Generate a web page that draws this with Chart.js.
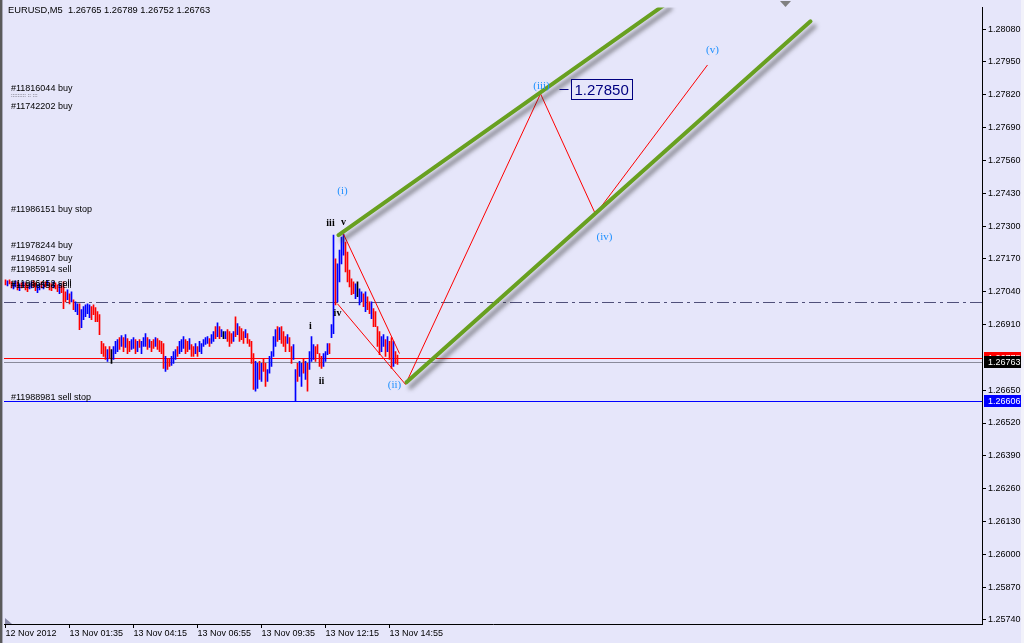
<!DOCTYPE html>
<html>
<head>
<meta charset="utf-8">
<title>EURUSD,M5</title>
<script src="https://cdn.jsdelivr.net/npm/chart.js@4.4.0/dist/chart.umd.min.js"></script>
<style>
  html, body { margin: 0; padding: 0; background: #e6e6fa; }
  canvas { display: block; }
</style>
</head>
<body>
<canvas id="chart" width="1024" height="643"></canvas>
<script>
// EURUSD M5 bars (bar 0 = 12 Nov 22:55)
const headerText = 'EURUSD,M5  1.26765 1.26789 1.26752 1.26763';

const barHighs = [
  1.27087,1.27083,1.27087,1.27079,1.27075,1.27083,1.27079,1.27071,1.27075,1.27079,
  1.27075,1.27067,1.27071,1.27079,1.27083,1.27075,1.27067,1.27071,1.27079,1.27075,
  1.27079,1.27083,1.27075,1.27071,1.27079,1.27075,1.27067,1.27071,1.27063,1.27079,
  1.27040,1.27047,1.27032,1.27040,1.27008,1.27000,1.26992,1.26992,1.26969,1.26981,
  1.26988,1.26992,1.26988,1.26981,1.26988,1.26977,1.26961,1.26949,1.26843,1.26835,
  1.26823,1.26811,1.26823,1.26811,1.26823,1.26843,1.26850,1.26858,1.26866,1.26858,
  1.26870,1.26854,1.26843,1.26850,1.26858,1.26850,1.26843,1.26850,1.26843,1.26858,
  1.26874,1.26858,1.26850,1.26843,1.26850,1.26858,1.26854,1.26846,1.26843,1.26835,
  1.26784,1.26772,1.26776,1.26784,1.26803,1.26811,1.26823,1.26843,1.26850,1.26862,
  1.26850,1.26843,1.26854,1.26831,1.26823,1.26835,1.26823,1.26843,1.26835,1.26850,
  1.26858,1.26862,1.26854,1.26870,1.26882,1.26902,1.26917,1.26902,1.26890,1.26882,
  1.26882,1.26890,1.26882,1.26874,1.26882,1.26941,1.26914,1.26902,1.26894,1.26882,
  1.26890,1.26874,1.26850,1.26843,1.26795,1.26764,1.26756,1.26764,1.26756,1.26772,
  1.26756,1.26732,1.26784,1.26803,1.26862,1.26890,1.26902,1.26898,1.26902,1.26882,
  1.26862,1.26870,1.26858,1.26823,1.26831,1.26732,1.26756,1.26764,1.26756,1.26772,
  1.26764,1.26756,1.26803,1.26862,1.26831,1.26823,1.26831,1.26795,1.26784,1.26795,
  1.26803,1.26835,1.26835,1.26910,1.27264,1.27170,1.27150,1.27205,1.27256,1.27268,
  1.27237,1.27197,1.27126,1.27091,1.27079,1.27071,1.27079,1.27051,1.27040,1.27032,
  1.27040,1.27020,1.27000,1.27000,1.26973,1.26961,1.26902,1.26882,1.26862,1.26870,
  1.26850,1.26862,1.26843,1.26858,1.26843,1.26803,1.26789
];
const barLows = [
  1.27067,1.27063,1.27071,1.27055,1.27051,1.27059,1.27047,1.27044,1.27055,1.27059,
  1.27047,1.27040,1.27051,1.27055,1.27059,1.27044,1.27036,1.27047,1.27055,1.27051,
  1.27059,1.27063,1.27047,1.27044,1.27055,1.27051,1.27040,1.27032,1.27036,1.26973,
  1.27000,1.27008,1.26992,1.27000,1.26969,1.26961,1.26949,1.26890,1.26898,1.26929,
  1.26941,1.26953,1.26937,1.26929,1.26949,1.26921,1.26921,1.26870,1.26795,1.26784,
  1.26772,1.26764,1.26776,1.26756,1.26772,1.26795,1.26803,1.26811,1.26823,1.26803,
  1.26819,1.26795,1.26803,1.26811,1.26815,1.26795,1.26803,1.26819,1.26795,1.26823,
  1.26823,1.26811,1.26819,1.26803,1.26815,1.26823,1.26811,1.26803,1.26795,1.26736,
  1.26724,1.26732,1.26744,1.26748,1.26756,1.26772,1.26784,1.26795,1.26803,1.26815,
  1.26795,1.26803,1.26811,1.26784,1.26784,1.26795,1.26784,1.26803,1.26795,1.26823,
  1.26831,1.26835,1.26823,1.26835,1.26843,1.26854,1.26862,1.26854,1.26862,1.26854,
  1.26854,1.26843,1.26823,1.26835,1.26843,1.26862,1.26870,1.26843,1.26850,1.26835,
  1.26858,1.26835,1.26823,1.26756,1.26653,1.26646,1.26657,1.26693,1.26685,1.26724,
  1.26665,1.26685,1.26717,1.26744,1.26784,1.26823,1.26843,1.26850,1.26835,1.26823,
  1.26803,1.26835,1.26803,1.26756,1.26772,1.26606,1.26685,1.26705,1.26665,1.26717,
  1.26693,1.26646,1.26732,1.26764,1.26772,1.26764,1.26795,1.26744,1.26736,1.26744,
  1.26764,1.26791,1.26795,1.26858,1.26874,1.26988,1.27000,1.27079,1.27150,1.27185,
  1.27118,1.27079,1.27059,1.27028,1.27032,1.27012,1.27020,1.26988,1.27000,1.26981,
  1.26961,1.26969,1.26953,1.26933,1.26902,1.26902,1.26823,1.26791,1.26803,1.26823,
  1.26784,1.26803,1.26772,1.26736,1.26744,1.26756,1.26752
];
// u = up bar (blue), d = down bar (red), n = unchanged (black)
const barDirs = [
  'dudduududu','dduudduudu','dudduddudd','dududuuduu','uuuddddddd',
  'dudnuuudud','udduududuu','ududdudddd','udduuuduuu','ddudduduuu',
  'uuduududun','udddududdd','udddduudud','duuuuududd','dudduuduud',
  'uduuuddddu','uuduuduuuu','dddddunuud','uddudddduu','duddudd'
];

const xTickBars = [0, 32, 64, 96, 128, 160, 192];
const xTickLabels = ['12 Nov 2012', '13 Nov 01:35', '13 Nov 04:15', '13 Nov 06:55',
                     '13 Nov 09:35', '13 Nov 12:15', '13 Nov 14:55'];
const yTicks = [1.28080, 1.27950, 1.27820, 1.27690, 1.27560, 1.27430, 1.27300, 1.27170,
                1.27040, 1.26910, 1.26650, 1.26520, 1.26390, 1.26260, 1.26130, 1.26000,
                1.25870, 1.25740];
const yMin = 1.25724, yMax = 1.28166;

const bidPrice = 1.26763;
const askPrice = 1.26778;
const sellStopPrice = 1.26606;
const dashLevelPrice = 1.27000;

// trend channel and wave lines: [bar index, price] anchors
const upperChannelBars = [166.5, 330.5];
const upperChannelPrices = [1.27264, 1.28182];
const lowerChannelBars = [200.5, 402.5];
const lowerChannelPrices = [1.26681, 1.28111];
const waveFallBars = [169, 197];
const waveFallPrices = [1.27268, 1.26795];
const wavePathBars = [166, 200, 267.5, 295, 351];
const wavePathPrices = [1.26992, 1.26673, 1.27824, 1.27347, 1.27938];

const waveTexts = ['(i)', '(ii)', '(iii)', '(iv)', '(v)'];
const waveTextBars = [168.5, 194.5, 268, 299.5, 353.5];
const waveTextPrices = [1.27438, 1.26669, 1.27855, 1.27256, 1.27997];
const subWaveTexts = ['iii', 'v', 'iv', 'i', 'ii'];
const subWaveBars = [162.5, 169, 166, 152.5, 158];
const subWavePrices = [1.27311, 1.27315, 1.26953, 1.26902, 1.26685];

const targetText = '1.27850';
const targetBar = 283;
const targetPrice = 1.27843;

const orderTexts = ['#11816044 buy', '#11742202 buy', '#11986151 buy stop', '#11978244 buy',
                    '#11946807 buy', '#11985914 sell', '#11986452 sell', '#11986553 sell',
                    '#11988981 sell stop'];
const orderPrices = [1.27843, 1.27772, 1.27367, 1.27221, 1.27170, 1.27126, 1.27071, 1.27063, 1.26622];

const FONT = '"Liberation Sans", Arial, sans-serif';
const BG = '#e6e6fa';

const barData = barHighs.map((h, i) => ({ x: i, y: [barLows[i], h] }));
const dirs = barDirs.join('').split('');
const barColors = dirs.map(c => c === 'u' ? '#0000ff' : (c === 'd' ? '#ff0000' : '#000000'));

function pts(bars, prices) {
    return bars.map((b, i) => ({ x: b, y: prices[i] }));
}

const overlayPlugin = {
    id: 'mtOverlay',
    beforeDraw(chart) {
        const ctx = chart.ctx;
        ctx.save();
        ctx.fillStyle = BG;
        ctx.fillRect(0, 0, chart.width, chart.height);
        ctx.restore();
    },
    beforeDatasetsDraw(chart) {
        // horizontal price levels, snapped to whole pixels
        const ctx = chart.ctx, a = chart.chartArea, ys = chart.scales.y;
        const level = (p, color, dash) => {
            const y = Math.round(ys.getPixelForValue(p)) + 0.5;
            ctx.save();
            ctx.strokeStyle = color;
            ctx.lineWidth = 1;
            ctx.setLineDash(dash || []);
            ctx.beginPath();
            ctx.moveTo(a.left, y);
            ctx.lineTo(a.right, y);
            ctx.stroke();
            ctx.restore();
        };
        level(dashLevelPrice, '#50507a', [12, 4, 3, 4]);
        level(sellStopPrice, '#0000ff');
        level(bidPrice, '#8a8a9a');
        level(askPrice, '#ff0000');
    },
    beforeDatasetDraw(chart, args) {
        const ds = chart.data.datasets[args.index];
        if (ds.shadow) {
            const ctx = chart.ctx;
            ctx.save();
            ctx.shadowColor = 'rgba(50,50,50,0.55)';
            ctx.shadowBlur = 4;
            ctx.shadowOffsetX = 4;
            ctx.shadowOffsetY = 5;
        }
    },
    afterDatasetDraw(chart, args) {
        if (chart.data.datasets[args.index].shadow) chart.ctx.restore();
    },
    afterDatasetsDraw(chart) {
        const ctx = chart.ctx, xs = chart.scales.x, ys = chart.scales.y;
        ctx.save();
        ctx.textAlign = 'center';
        ctx.textBaseline = 'middle';
        // wave counts
        ctx.font = '11px "Liberation Serif", "Times New Roman", serif';
        ctx.fillStyle = '#1e90ff';
        waveTexts.forEach((t, i) => {
            ctx.fillText(t, xs.getPixelForValue(waveTextBars[i]), ys.getPixelForValue(waveTextPrices[i]));
        });
        ctx.font = 'bold 10px "Liberation Serif", "Times New Roman", serif';
        ctx.fillStyle = '#000000';
        subWaveTexts.forEach((t, i) => {
            ctx.fillText(t, xs.getPixelForValue(subWaveBars[i]), ys.getPixelForValue(subWavePrices[i]));
        });

        // order labels on the left
        ctx.textAlign = 'left';
        ctx.font = '9px ' + FONT;
        orderTexts.forEach((t, i) => {
            ctx.fillText(t, 11, ys.getPixelForValue(orderPrices[i]));
        });
        ctx.font = '6px ' + FONT;
        ctx.fillText('::::::::: :: :::', 11, 95);

        // target price box
        const tx = Math.round(xs.getPixelForValue(targetBar)) + 0.5;
        const ty = Math.round(ys.getPixelForValue(targetPrice)) + 0.5;
        ctx.strokeStyle = '#000080';
        ctx.lineWidth = 1;
        ctx.beginPath();
        ctx.moveTo(tx - 13, ty);
        ctx.lineTo(tx - 4, ty);
        ctx.stroke();
        ctx.fillStyle = BG;
        ctx.fillRect(tx - 1, ty - 10, 61, 20);
        ctx.strokeRect(tx - 1, ty - 10, 61, 20);
        ctx.fillStyle = '#000080';
        ctx.font = '15px ' + FONT;
        ctx.fillText(targetText, tx + 2, ty + 1);
        ctx.restore();
    },
    afterDraw(chart) {
        const ctx = chart.ctx, ys = chart.scales.y, a = chart.chartArea;
        ctx.save();
        // price boxes on the axis
        const box = (p, bg, txt) => {
            const y = Math.round(ys.getPixelForValue(p));
            ctx.fillStyle = bg;
            ctx.fillRect(a.right + 2, y - 6, 37, 12);
            ctx.fillStyle = '#ffffff';
            ctx.font = '9px ' + FONT;
            ctx.textAlign = 'left';
            ctx.textBaseline = 'middle';
            ctx.fillText(txt, a.right + 6, y + 0.5);
        };
        box(askPrice, '#ff0000', askPrice.toFixed(5));
        box(bidPrice, '#000000', bidPrice.toFixed(5));
        box(sellStopPrice, '#0000ff', sellStopPrice.toFixed(5));

        // header
        ctx.fillStyle = '#000000';
        ctx.font = '9.3px ' + FONT;
        ctx.textAlign = 'left';
        ctx.textBaseline = 'middle';
        ctx.fillText(headerText, 8, 10);

        // window frame and markers
        ctx.fillStyle = '#5a5a5a';
        ctx.fillRect(0, 0, 2, chart.height);
        ctx.fillStyle = '#a8a8b8';
        ctx.fillRect(2, 0, 1, chart.height);
        ctx.fillStyle = '#f2f2fa';
        ctx.fillRect(1021, 0, 3, chart.height);
        ctx.fillStyle = '#808080';
        ctx.beginPath();
        ctx.moveTo(780, 1); ctx.lineTo(791, 1); ctx.lineTo(785.5, 7); ctx.closePath();
        ctx.fill();
        ctx.fillStyle = '#8888a8';
        ctx.beginPath();
        ctx.moveTo(5, 618); ctx.lineTo(5, 624); ctx.lineTo(12, 624); ctx.closePath();
        ctx.fill();
        ctx.restore();
    }
};

const ctx = document.getElementById('chart').getContext('2d');
new Chart(ctx, {
    type: 'bar',
    data: {
        datasets: [
            {
                type: 'line', label: 'upper channel', data: pts(upperChannelBars, upperChannelPrices),
                borderColor: '#68a020', borderWidth: 4, borderCapStyle: 'round',
                pointRadius: 0, shadow: true, clip: 0, order: 1
            },
            {
                type: 'line', label: 'lower channel', data: pts(lowerChannelBars, lowerChannelPrices),
                borderColor: '#68a020', borderWidth: 4, borderCapStyle: 'round',
                pointRadius: 0, shadow: true, order: 1
            },
            {
                type: 'line', label: 'wave path', data: pts(wavePathBars, wavePathPrices),
                borderColor: '#ff0000', borderWidth: 1, pointRadius: 0, tension: 0, order: 2
            },
            {
                type: 'line', label: 'wave fall', data: pts(waveFallBars, waveFallPrices),
                borderColor: '#ff0000', borderWidth: 1, pointRadius: 0, tension: 0, order: 2
            },
            {
                label: 'EURUSD', data: barData,
                backgroundColor: barColors, borderWidth: 0,
                barThickness: 1, grouped: false, order: 5
            }
        ]
    },
    options: {
        responsive: false,
        animation: false,
        devicePixelRatio: 1,
        events: [],
        layout: { padding: { left: 4, top: 4, right: 0, bottom: 0 } },
        plugins: { legend: { display: false }, tooltip: { enabled: false } },
        scales: {
            x: {
                type: 'linear', position: 'bottom',
                min: -0.75, max: 488.25, offset: false,
                afterBuildTicks: s => { s.ticks = xTickBars.map(v => ({ value: v })); },
                afterFit: s => { s.height = 19; },
                grid: { display: true, drawOnChartArea: false, drawTicks: true, tickLength: 4,
                        color: '#000000', offset: false },
                border: { display: true, color: '#000000' },
                ticks: {
                    autoSkip: false, maxRotation: 0, align: 'start', padding: 0,
                    color: '#000000', font: { family: FONT, size: 9 },
                    callback: v => { const k = xTickBars.indexOf(v); return k >= 0 ? xTickLabels[k] : ''; }
                }
            },
            y: {
                type: 'linear', position: 'right',
                min: yMin, max: yMax,
                afterBuildTicks: s => { s.ticks = yTicks.map(v => ({ value: v })); },
                afterFit: s => { s.width = 42; },
                grid: { display: true, drawOnChartArea: false, drawTicks: true, tickLength: 4,
                        color: '#000000' },
                border: { display: true, color: '#000000' },
                ticks: {
                    autoSkip: false, padding: 2, color: '#000000',
                    font: { family: FONT, size: 9 },
                    callback: v => Number(v).toFixed(5)
                }
            }
        }
    },
    plugins: [overlayPlugin]
});
</script>
</body>
</html>
